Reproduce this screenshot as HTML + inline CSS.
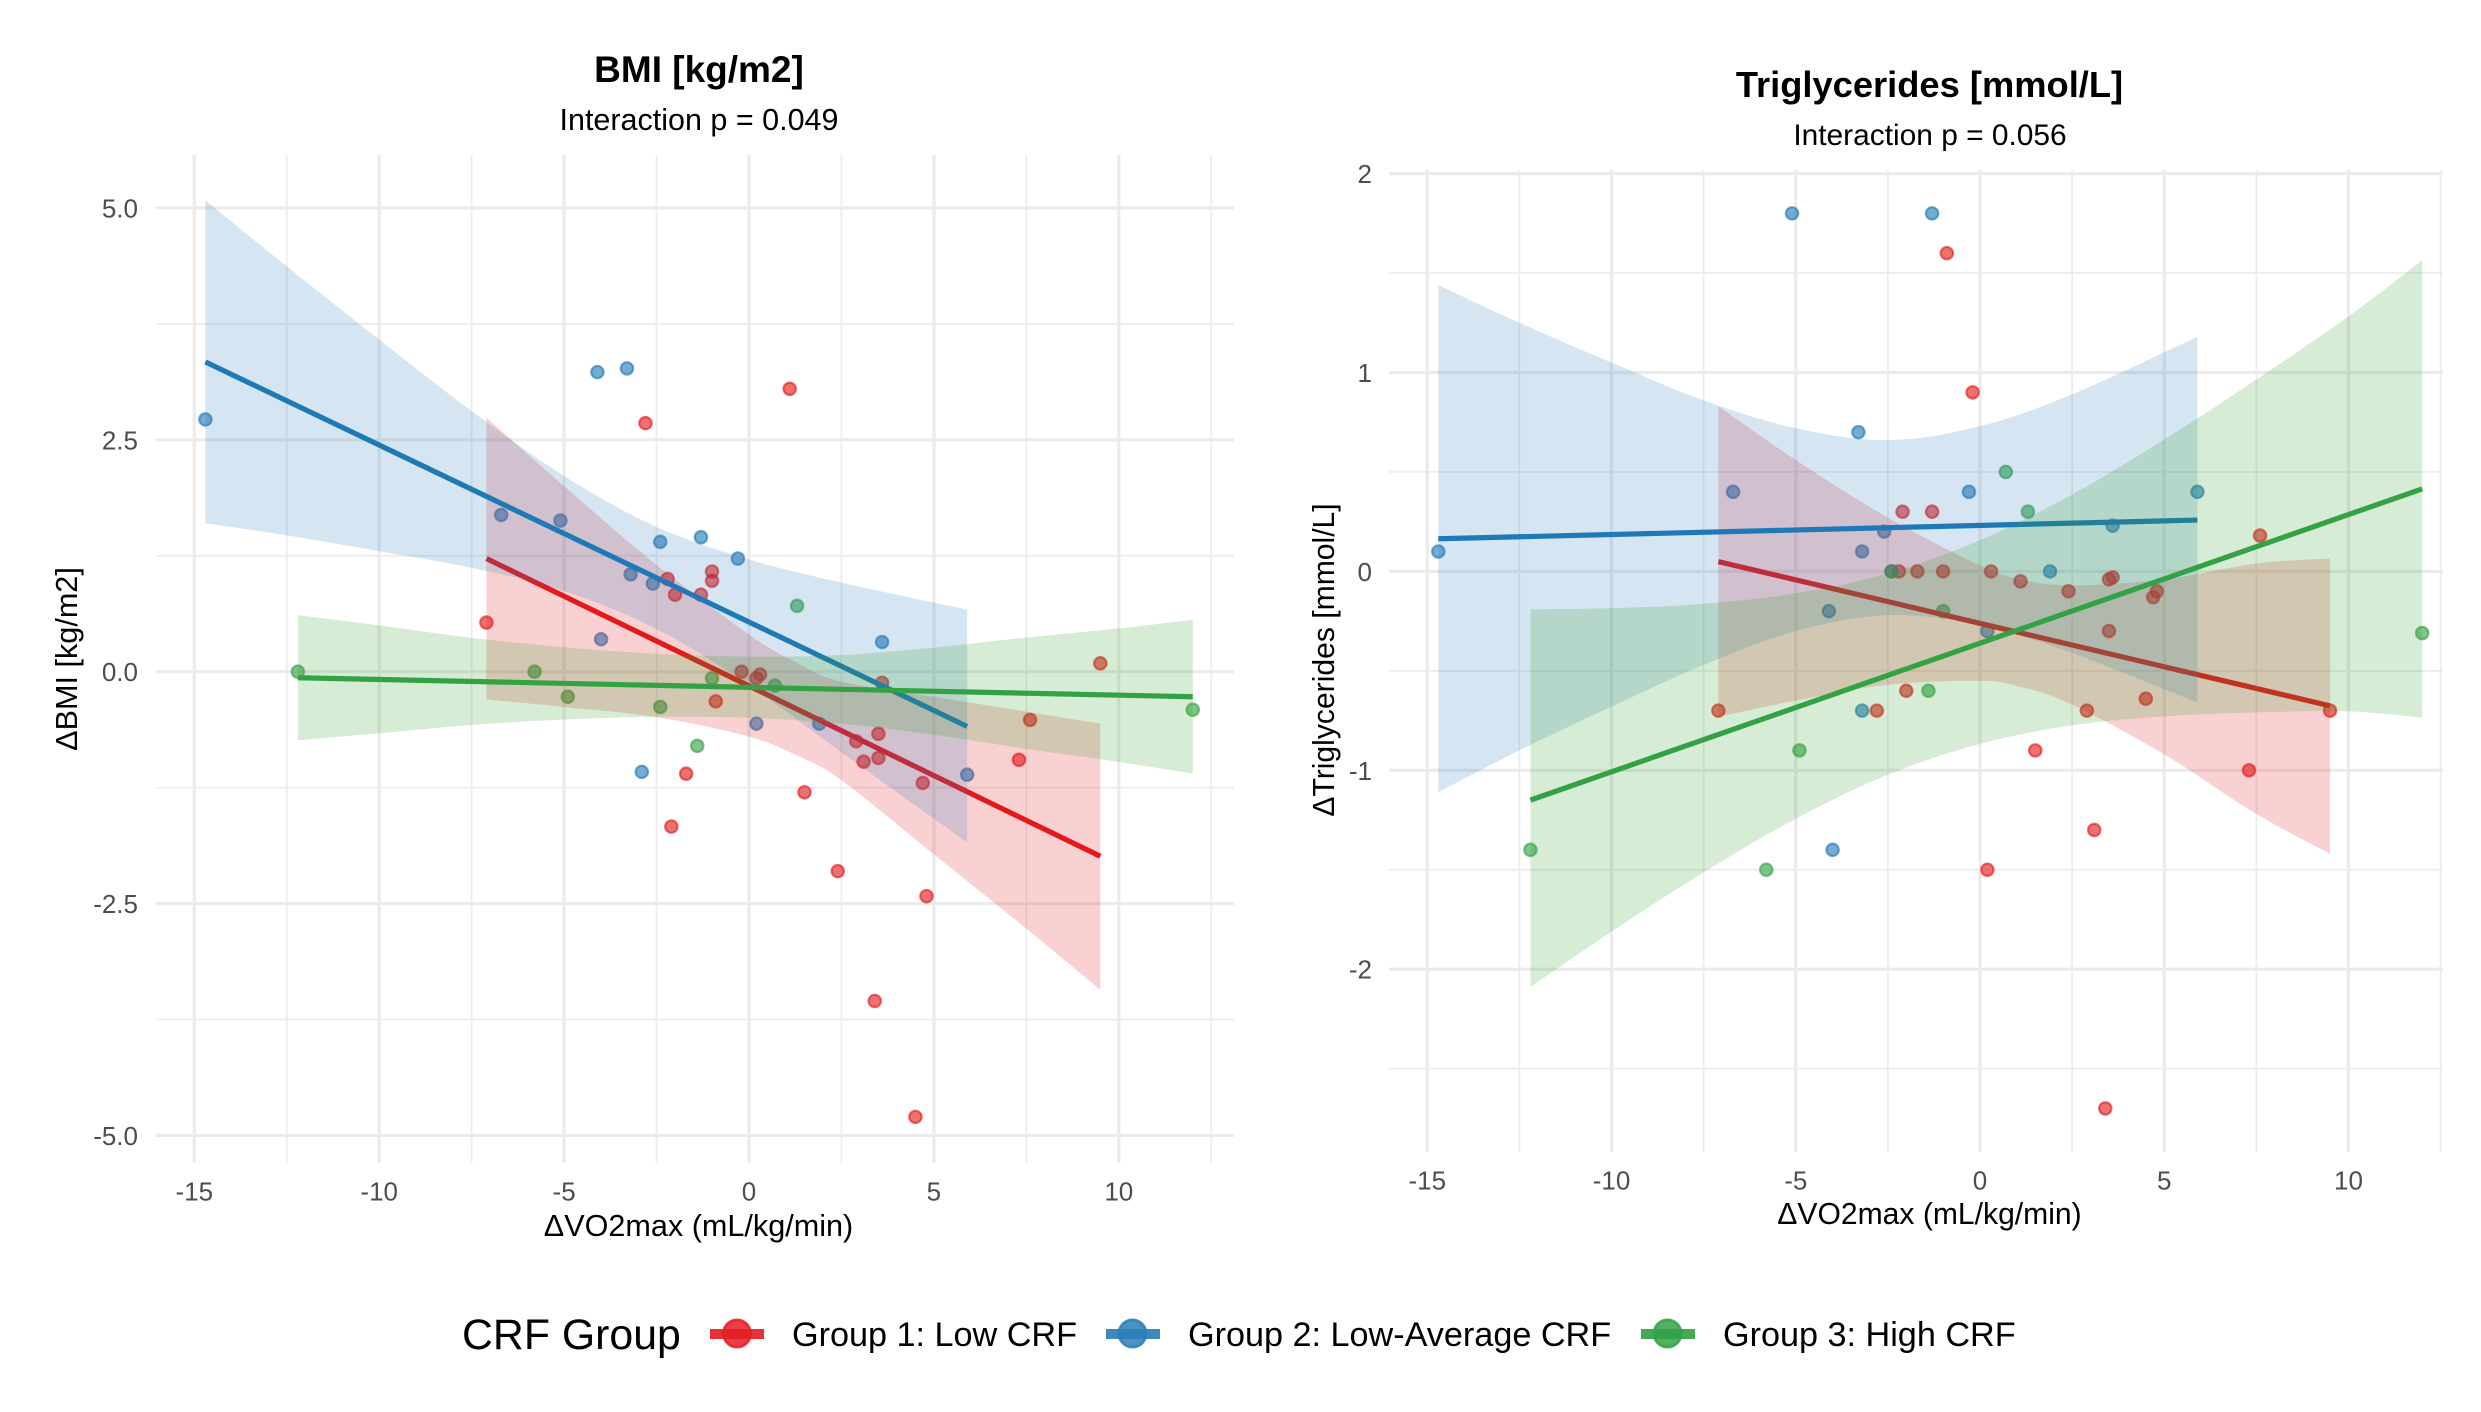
<!DOCTYPE html>
<html lang="en">
<head>
<meta charset="utf-8">
<title>CRF Group interaction charts</title>
<style>
html,body{margin:0;padding:0;background:#fff;}
svg{display:block;font-family:"Liberation Sans",Arial,sans-serif;}
.title{font-size:36.5px;font-weight:bold;fill:#000;text-anchor:middle;}
.sub{font-size:30.5px;fill:#000;text-anchor:middle;}
.sub2{font-size:29.9px;fill:#000;text-anchor:middle;}
.axt{font-size:30.6px;fill:#000;text-anchor:middle;}
.axt2{font-size:30.1px;fill:#000;text-anchor:middle;}
.leg{font-size:34.2px;fill:#000;}
.legt{font-size:42.8px;fill:#000;}
.tick{font-size:26px;fill:#4d4d4d;}
</style>
</head>
<body>
<svg id="chart" width="2481" height="1412" viewBox="0 0 2481 1412" xmlns="http://www.w3.org/2000/svg">
  <rect x="0" y="0" width="2481" height="1412" fill="#ffffff"/>
  <g id="panelA"></g>
  <g id="panelB"></g>
  <text class="title" style="font-size:37px" x="699" y="82">BMI [kg/m2]</text>
  <text class="sub" x="699" y="130">Interaction p = 0.049</text>
  <text class="title" style="font-size:36.3px" x="1929.5" y="97">Triglycerides [mmol/L]</text>
  <text class="sub2" x="1930" y="145">Interaction p = 0.056</text>
  <text class="axt" x="698.5" y="1236">ΔVO2max (mL/kg/min)</text>
  <text class="axt2" x="1929.5" y="1224">ΔVO2max (mL/kg/min)</text>
  <text class="axt" transform="translate(77,659) rotate(-90)">ΔBMI [kg/m2]</text>
  <text class="axt2" transform="translate(1334,660) rotate(-90)">ΔTriglycerides [mmol/L]</text>
  <g>
    <text class="legt" x="462" y="1349">CRF Group</text>
    <g>
      <rect x="710" y="1329" width="54" height="10" fill="#E41F26" opacity="0.92"/>
      <circle cx="737" cy="1333.5" r="13.7" fill="#E41F26" stroke="#E41F26" stroke-width="2.6" fill-opacity="0.85" stroke-opacity="0.85"/>
      <text class="leg" x="792" y="1346">Group 1: Low CRF</text>
    </g>
    <g>
      <rect x="1106" y="1329" width="54" height="10" fill="#2C7FB8" opacity="0.92"/>
      <circle cx="1132.5" cy="1333.5" r="13.7" fill="#2C7FB8" stroke="#2C7FB8" stroke-width="2.6" fill-opacity="0.85" stroke-opacity="0.85"/>
      <text class="leg" x="1188" y="1346">Group 2: Low-Average CRF</text>
    </g>
    <g>
      <rect x="1641" y="1329" width="54" height="10" fill="#33A248" opacity="0.92"/>
      <circle cx="1667.5" cy="1333.5" r="13.7" fill="#33A248" stroke="#33A248" stroke-width="2.6" fill-opacity="0.85" stroke-opacity="0.85"/>
      <text class="leg" x="1723" y="1346">Group 3: High CRF</text>
    </g>
  </g>
</svg>
<script>
// ---- shared axis data ----
var xMajorTicks = [-15, -10, -5, 0, 5, 10];
var xMinorTicks = [-12.5, -7.5, -2.5, 2.5, 7.5, 12.5];
var groupNames = ['group-1-low', 'group-2-low-average', 'group-3-high'];
var groupColors = ['#E31A1C', '#2079B7', '#33A244'];
var bandColors = ['#E41A1C', '#2C7FB8', '#33A02C'];

// ---- BMI panel data ----
var bmiYMajor = [5, 2.5, 0, -2.5, -5];
var bmiYMajorLabels = ['5.0', '2.5', '0.0', '-2.5', '-5.0'];
var bmiYMinor = [3.75, 1.25, -1.25, -3.75];

var bmiLowX = [-7.1, -2.8, 1.1, -2.2, -1.0, -1.0, -2.0, -1.3, -0.9, -0.2, 0.2, 0.3, 1.5, 2.4, 2.9, 3.1, 3.5, 3.5, 3.6, 4.7, 4.8, 7.3, 7.6, 9.5, 3.4, 4.5, -2.1, -1.7];
var bmiLowY = [0.53, 2.68, 3.05, 1.0, 1.08, 0.98, 0.83, 0.83, -0.32, 0, -0.07, -0.03, -1.3, -2.15, -0.75, -0.97, -0.67, -0.93, -0.12, -1.2, -2.42, -0.95, -0.52, 0.09, -3.55, -4.8, -1.67, -1.1];
var bmiMidX = [-14.7, -4.1, -3.3, -6.7, -5.1, -2.4, -1.3, -0.3, -3.2, -2.6, -4.0, 3.6, 0.2, 1.9, -2.9, 5.9];
var bmiMidY = [2.72, 3.23, 3.27, 1.69, 1.63, 1.40, 1.45, 1.22, 1.05, 0.95, 0.35, 0.32, -0.56, -0.56, -1.08, -1.11];
var bmiHighX = [1.3, -12.2, -5.8, -4.9, -2.4, -1.0, 0.7, -1.4, 12.0];
var bmiHighY = [0.71, 0, 0, -0.27, -0.38, -0.07, -0.15, -0.80, -0.41];

var bmiLowFitX = [-7.1, 9.5];
var bmiLowFitY = [1.22, -1.99];
var bmiMidFitX = [-14.7, 5.9];
var bmiMidFitY = [3.34, -0.59];
var bmiHighFitX = [-12.2, 12];
var bmiHighFitY = [-0.065, -0.27];

var bmiLowBandX = [-7.1, -5, -2.5, 0, 1.3, 2.5, 5, 7.5, 9.5];
var bmiLowBandUpper = [2.74, 2.0, 1.15, 0.40, 0.095, -0.107, -0.27, -0.43, -0.56];
var bmiLowBandLower = [-0.30, -0.38, -0.49, -0.70, -0.905, -1.17, -1.97, -2.77, -3.43];
var bmiMidBandX = [-14.7, -12.5, -10, -7.5, -5, -2.5, 0, 2.5, 5.9];
var bmiMidBandUpper = [5.08, 4.37, 3.58, 2.81, 2.11, 1.56, 1.21, 0.96, 0.67];
var bmiMidBandLower = [1.6, 1.47, 1.30, 1.12, 0.87, 0.46, -0.145, -0.87, -1.84];
var bmiHighBandX = [-12.2, -10, -7.5, -5, -2.5, 0, 2.5, 5, 7.5, 10, 12];
var bmiHighBandUpper = [0.61, 0.50, 0.365, 0.264, 0.193, 0.162, 0.18, 0.26, 0.368, 0.467, 0.56];
var bmiHighBandLower = [-0.74, -0.664, -0.575, -0.516, -0.487, -0.498, -0.56, -0.68, -0.832, -0.973, -1.10];

// ---- Triglycerides panel data ----
var tgYMajor = [2, 1, 0, -1, -2];
var tgYMajorLabels = ['2', '1', '0', '-1', '-2'];
var tgYMinor = [1.5, 0.5, -0.5, -1.5, -2.5];

var tgLowX = [-0.9, -0.2, -2.1, -1.3, -2.2, -1.7, -1.0, 0.3, 1.1, 2.4, 3.5, 3.6, 4.8, 4.7, 3.5, 7.6, -2.0, 4.5, -7.1, -2.8, 2.9, 9.5, 1.5, 7.3, 3.1, 0.2, 3.4];
var tgLowY = [1.6, 0.9, 0.3, 0.3, 0, 0, 0, 0, -0.05, -0.1, -0.04, -0.03, -0.1, -0.13, -0.3, 0.18, -0.6, -0.64, -0.7, -0.7, -0.7, -0.7, -0.9, -1.0, -1.3, -1.5, -2.7];
var tgMidX = [-14.7, -5.1, -1.3, -3.3, -6.7, -0.3, 5.9, -2.6, -3.2, 3.6, 1.9, -4.1, 0.2, -3.2, -4.0, -2.4];
var tgMidY = [0.1, 1.8, 1.8, 0.7, 0.4, 0.4, 0.4, 0.2, 0.1, 0.23, 0, -0.2, -0.3, -0.7, -1.4, 0];
var tgHighX = [0.7, 1.3, -2.4, -1.0, 12, -1.4, -4.9, -12.2, -5.8];
var tgHighY = [0.5, 0.3, 0, -0.2, -0.31, -0.6, -0.9, -1.4, -1.5];

var tgLowFitX = [-7.1, 9.5];
var tgLowFitY = [0.049, -0.676];
var tgMidFitX = [-14.7, 5.9];
var tgMidFitY = [0.164, 0.258];
var tgHighFitX = [-12.2, 12];
var tgHighFitY = [-1.15, 0.415];

var tgLowBandX = [-7.1, -5, -2.5, 0, 1.1, 2.5, 5, 7.5, 9.5];
var tgLowBandUpper = [0.83, 0.56, 0.27, 0.03, -0.04, -0.07, -0.04, 0.04, 0.065];
var tgLowBandLower = [-0.73, -0.65, -0.57, -0.55, -0.58, -0.67, -0.92, -1.22, -1.42];
var tgMidBandX = [-14.7, -12.5, -10, -7.5, -5, -2.5, 0, 2.5, 5.9];
var tgMidBandUpper = [1.44, 1.25, 1.05, 0.86, 0.72, 0.66, 0.73, 0.89, 1.18];
var tgMidBandLower = [-1.11, -0.90, -0.68, -0.47, -0.30, -0.22, -0.27, -0.41, -0.66];
var tgHighBandX = [-12.2, -10, -7.5, -5, -2.5, 0, 2.5, 5, 7.5, 10, 12];
var tgHighBandUpper = [-0.19, -0.185, -0.163, -0.11, -0.01, 0.157, 0.386, 0.663, 0.965, 1.282, 1.565];
var tgHighBandLower = [-2.09, -1.811, -1.513, -1.244, -1.022, -0.867, -0.774, -0.729, -0.709, -0.704, -0.735];

var NS = 'http://www.w3.org/2000/svg';

function make(parent, tag, attrs) {
  var el = document.createElementNS(NS, tag);
  for (var k in attrs) { el.setAttribute(k, attrs[k]); }
  parent.appendChild(el);
  return el;
}

function splinePath(px, py, startCmd) {
  var d = startCmd + px[0].toFixed(2) + ' ' + py[0].toFixed(2);
  for (var i = 0; i < px.length - 1; i++) {
    var a = Math.max(i - 1, 0), b = Math.min(i + 2, px.length - 1);
    var c1x = px[i] + (px[i + 1] - px[a]) / 6, c1y = py[i] + (py[i + 1] - py[a]) / 6;
    var c2x = px[i + 1] - (px[b] - px[i]) / 6, c2y = py[i + 1] - (py[b] - py[i]) / 6;
    d += 'C' + c1x.toFixed(2) + ' ' + c1y.toFixed(2) + ' ' + c2x.toFixed(2) + ' ' + c2y.toFixed(2) + ' ' + px[i + 1].toFixed(2) + ' ' + py[i + 1].toFixed(2);
  }
  return d;
}

function drawPanel(root, p) {
  var sx = function (v) { return p.x0 + v * p.xUnit; };
  var sy = function (v) { return p.y0 - v * p.yUnit; };

  xMinorTicks.forEach(function (v) {
    var l = make(root, 'line', { x1: sx(v), x2: sx(v), y1: p.top, y2: p.bottom, stroke: '#ececec', 'stroke-width': 1.7 });
    
    
  });
  p.yMinor.forEach(function (v) {
    var l = make(root, 'line', { x1: p.left, x2: p.right, y1: sy(v), y2: sy(v), stroke: '#ececec', 'stroke-width': 1.7 });
    
    
  });
  xMajorTicks.forEach(function (v) {
    var l = make(root, 'line', { x1: sx(v), x2: sx(v), y1: p.top, y2: p.bottom, stroke: '#ebebeb', 'stroke-width': 3.2 });
    
    
    var t = make(root, 'text', { x: sx(v), y: p.xTickY, 'class': 'tick', 'text-anchor': 'middle' });
    t.textContent = String(v);
    
    
  });
  p.yMajor.forEach(function (v, i) {
    var l = make(root, 'line', { x1: p.left, x2: p.right, y1: sy(v), y2: sy(v), stroke: '#ebebeb', 'stroke-width': 3.2 });
    
    
    var t = make(root, 'text', { x: p.yTickX, y: sy(v) + 9.5, 'class': 'tick', 'text-anchor': 'end' });
    t.textContent = p.yLabels[i];
    
    
  });

  // points sit below the fitted bands
  p.groups.forEach(function (g, gi) {
    g.px.forEach(function (xv, i) {
      var c = make(root, 'circle', {
        cx: sx(xv), cy: sy(g.py[i]), r: 6.2,
        fill: groupColors[gi], stroke: groupColors[gi],
        'stroke-width': 2.2, 'fill-opacity': 0.62, 'stroke-opacity': 0.62
      });
      
      
    });
  });

  // each group: band, then fit line
  p.groups.forEach(function (g, gi) {
    var bx = g.bandX.map(sx);
    var up = g.upper.map(sy);
    var lo = g.lower.map(sy);
    var d = splinePath(bx, up, 'M') + splinePath(bx.slice().reverse(), lo.slice().reverse(), 'L') + 'Z';
    var band = make(root, 'path', { d: d, fill: bandColors[gi], 'fill-opacity': 0.2, stroke: 'none' });
    
    
    var fit = make(root, 'line', {
      x1: sx(g.fitX[0]), y1: sy(g.fitY[0]), x2: sx(g.fitX[1]), y2: sy(g.fitY[1]),
      stroke: groupColors[gi], 'stroke-width': 5.2
    });
    
    
  });
}

drawPanel(document.getElementById('panelA'), {
  x0: 749, xUnit: 36.98, y0: 671.7, yUnit: 92.75,
  left: 156, right: 1234, top: 155, bottom: 1162.6,
  xTickY: 1200.5, yTickX: 138,
  yMajor: bmiYMajor, yLabels: bmiYMajorLabels, yMinor: bmiYMinor,
  groups: [
    { px: bmiLowX, py: bmiLowY, fitX: bmiLowFitX, fitY: bmiLowFitY, bandX: bmiLowBandX, upper: bmiLowBandUpper, lower: bmiLowBandLower },
    { px: bmiMidX, py: bmiMidY, fitX: bmiMidFitX, fitY: bmiMidFitY, bandX: bmiMidBandX, upper: bmiMidBandUpper, lower: bmiMidBandLower },
    { px: bmiHighX, py: bmiHighY, fitX: bmiHighFitX, fitY: bmiHighFitY, bandX: bmiHighBandX, upper: bmiHighBandUpper, lower: bmiHighBandLower }
  ]
});

drawPanel(document.getElementById('panelB'), {
  x0: 1980, xUnit: 36.85, y0: 571.4, yUnit: 198.9,
  left: 1389, right: 2443, top: 169.6, bottom: 1152,
  xTickY: 1189.5, yTickX: 1372,
  yMajor: tgYMajor, yLabels: tgYMajorLabels, yMinor: tgYMinor,
  groups: [
    { px: tgLowX, py: tgLowY, fitX: tgLowFitX, fitY: tgLowFitY, bandX: tgLowBandX, upper: tgLowBandUpper, lower: tgLowBandLower },
    { px: tgMidX, py: tgMidY, fitX: tgMidFitX, fitY: tgMidFitY, bandX: tgMidBandX, upper: tgMidBandUpper, lower: tgMidBandLower },
    { px: tgHighX, py: tgHighY, fitX: tgHighFitX, fitY: tgHighFitY, bandX: tgHighBandX, upper: tgHighBandUpper, lower: tgHighBandLower }
  ]
});
</script>
</body>
</html>
